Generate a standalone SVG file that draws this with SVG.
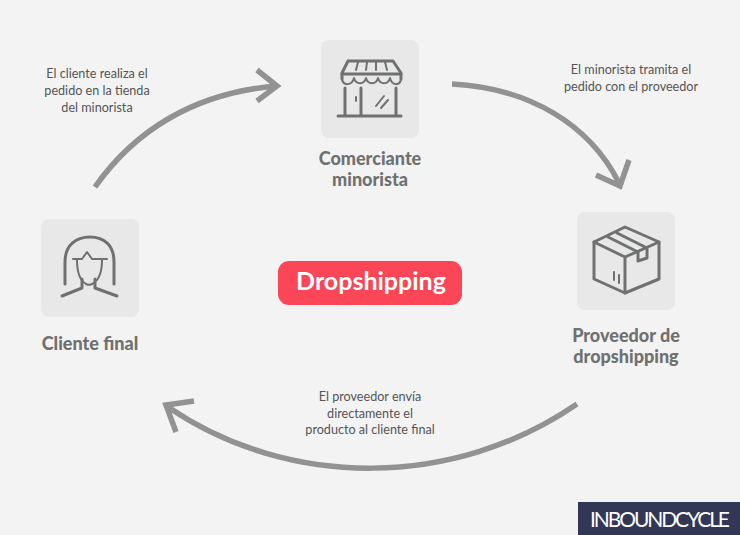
<svg xmlns="http://www.w3.org/2000/svg" width="740" height="535" viewBox="0 0 740 535">
<style>
.card{fill:#e8e8e8}
.ic{fill:none;stroke:#6f7170;stroke-width:3;stroke-linecap:round;stroke-linejoin:round}
.ic2{fill:none;stroke:#6f7170;stroke-width:2;stroke-linecap:round;stroke-linejoin:round}
.arrow{fill:none;stroke:#929292;stroke-width:5.5}
.lab{font-family:"Lato","Liberation Sans",sans-serif;font-size:18px;font-weight:900;fill:#6f7170;text-anchor:middle}
.note{font-family:"Lato","Liberation Sans",sans-serif;font-size:12.6px;fill:#555;text-anchor:middle}
</style>
<rect width="740" height="535" fill="#f3f3f3"/>
<g id="connectors">
<path class="arrow" d="M95 187C135 130 195 93 276 86"/>
<path class="arrow" d="M257 70L277 86L257 101"/>
<path class="arrow" d="M452 84C530 88 590 125 619 183"/>
<path class="arrow" d="M596 175L620 186L629 160"/>
<path class="arrow" d="M577 404C455 488 290 490 168 407"/>
<path class="arrow" d="M194 401L166 405L176 432"/>
</g>
<g id="note-cliente"><text class="note"><tspan x="97" y="78">El cliente realiza el</tspan><tspan x="97" y="95">pedido en la tienda</tspan><tspan x="97" y="112">del minorista</tspan></text></g>
<g id="note-minorista"><text class="note"><tspan x="631" y="74">El minorista tramita el</tspan><tspan x="631" y="91">pedido con el proveedor</tspan></text></g>
<g id="note-proveedor"><text class="note"><tspan x="370" y="401">El proveedor envía</tspan><tspan x="370" y="418">directamente el</tspan><tspan x="370" y="434">producto al cliente final</tspan></text></g>
<g id="comerciante">
<rect class="card" x="321" y="40" width="98" height="98" rx="8"/>
<path class="ic" d="M348 61H393L401 73V79M348 61L342 73V79"/>
<path class="ic" d="M342 74H401"/>
<path class="ic2" d="M358 62L356 70M367 62L366 70M376 62L376 70M385 62L387 70"/>
<path class="ic2" d="M342 79C343 86 352 86 354 78C356 85 364 85 366 78C368 85 376 85 378 78C380 85 388 85 390 78C392 86 400 86 401 79"/>
<path class="ic" d="M345 88V116M361 88V116M396 88V116M338 116H401"/>
<path class="ic2" d="M356 97V101M376 106L384 96M381 108L388 100"/>
<text class="lab" x="370" y="165">Comerciante</text>
<text class="lab" x="370" y="186">minorista</text>
</g>
<g id="cliente">
<rect class="card" x="41" y="219" width="98" height="98" rx="8"/>
<path class="ic" stroke-width="2.5" d="M65 284V262C65 245 76 237 90 237C104 237 114 245 114 262V284"/>
<path class="ic2" d="M73 259H82L87 252L92 259H107M77 260C77 275 81 281 86 284C88 285 90 285 92 284C98 281 102 275 102 260"/>
<path class="ic" d="M62 296L82 288V279M117 296L95 288V279"/>
<text class="lab" x="90" y="350">Cliente final</text>
</g>
<g id="proveedor">
<rect class="card" x="577" y="212" width="98" height="98" rx="8"/>
<path class="ic" d="M625 227L659 242V279L625 293L594 279V242Z"/>
<path class="ic" d="M594 242L625 257L659 242M625 257V293"/>
<path class="ic" stroke-width="2.5" d="M608 237L638 252V261L647 258V248L617 233"/>
<path class="ic2" d="M614 272V280M619 275V283"/>
<text class="lab" x="626" y="342">Proveedor de</text>
<text class="lab" x="626" y="363">dropshipping</text>
</g>
<g id="dropshipping">
<rect x="278" y="261" width="184" height="44" rx="11" fill="#fb4658"/>
<text x="371" y="290" text-anchor="middle" font-family="Lato,'Liberation Sans',sans-serif" font-size="25" font-weight="700" fill="#fff">Dropshipping</text>
</g>
<g id="logo">
<rect x="578" y="502" width="162" height="33" fill="#323755"/>
<text x="590" y="527" font-family="Lato,'Liberation Sans',sans-serif" font-size="21" font-weight="400" fill="#fff" textLength="140">INBOUNDCYCLE</text>
</g>
</svg>
